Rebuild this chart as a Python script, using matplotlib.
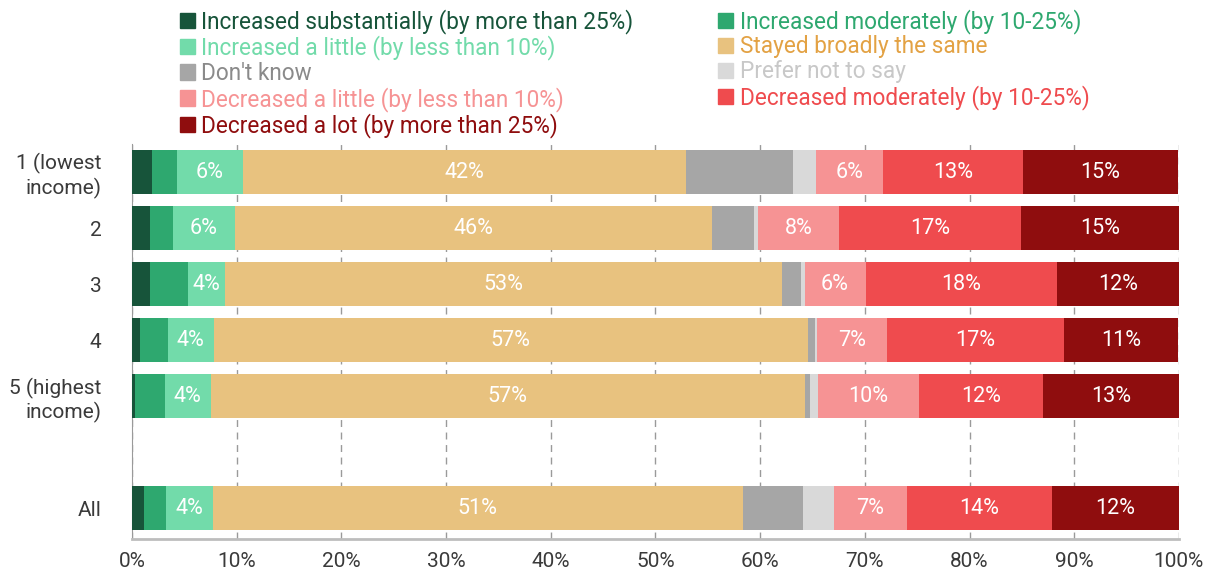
import matplotlib.pyplot as plt
from matplotlib.patches import Patch

plt.rcParams['font.family'] = ['Roboto', 'DejaVu Sans']

groups = ['1 (lowest\nincome)', '2', '3', '4', '5 (highest\nincome)', 'All']
positions = [0, 1, 2, 3, 4, 6]

categories = ['Increased substantially (by more than 25%)',
              'Increased moderately (by 10-25%)',
              'Increased a little (by less than 10%)',
              'Stayed broadly the same',
              "Don't know",
              'Prefer not to say',
              'Decreased a little (by less than 10%)',
              'Decreased moderately (by 10-25%)',
              'Decreased a lot (by more than 25%)']

# one list per category, rows in the order of groups
inc_sub = [1.95, 1.72, 1.69, 0.80, 0.32, 1.18]
inc_mod = [2.35, 2.17, 3.63, 2.60, 2.80, 2.11]
inc_little = [6.27, 5.92, 3.57, 4.43, 4.40, 4.44]
same = [42.3, 45.6, 53.2, 56.7, 56.76, 50.6]
dont_know = [10.3, 4.0, 1.86, 0.73, 0.45, 5.8]
prefer_not = [2.2, 0.4, 0.29, 0.16, 0.83, 2.95]
dec_little = [6.4, 7.7, 5.83, 6.7, 9.58, 6.9]
dec_mod = [13.3, 17.4, 18.3, 16.9, 11.87, 13.9]
dec_lot = [14.8, 15.2, 11.6, 10.9, 13.0, 12.1]

series = [inc_sub, inc_mod, inc_little, same, dont_know, prefer_not,
          dec_little, dec_mod, dec_lot]
colors = ['#17543a', '#2ea86f', '#72dbaa', '#e8c27f', '#a6a6a6', '#d9d9d9',
          '#f69394', '#ef4b4e', '#8f0d0e']
text_colors = ['#17543a', '#2ea86f', '#72dbaa', '#e3a244', '#8a8a8a', '#c8c8c8',
               '#f69394', '#ef4b4e', '#8f0d0e']
labelled = [2, 3, 6, 7, 8]

fig = plt.figure(figsize=(12.11, 5.76), dpi=100)
ax = fig.add_axes([0.109, 0.064, 0.8645, 0.686])

left = [0.0] * len(groups)
for i, vals in enumerate(series):
    bars = ax.barh(positions, vals, left=left, height=0.79, color=colors[i],
                   zorder=3, label=categories[i])
    if i in labelled:
        for b, v in zip(bars, vals):
            ax.text(b.get_x() + b.get_width() / 2, b.get_y() + b.get_height() / 2,
                    '%d%%' % round(v), ha='center', va='center', color='white',
                    fontsize=15.5, zorder=4)
    left = [l + v for l, v in zip(left, vals)]

ax.set_xlim(0, 100)
ax.set_ylim(6.55, -0.5)
ax.set_xticks(range(0, 101, 10))
ax.set_xticklabels(['%d%%' % t for t in range(0, 101, 10)])
ax.set_yticks(positions)
ax.set_yticklabels(groups)
ax.tick_params(axis='both', length=0, labelsize=15, colors='#3a3a3a', pad=9)
ax.tick_params(axis='y', pad=22)
for t in ax.get_yticklabels():
    t.set_horizontalalignment('right')
ax.grid(axis='x', color='#9a9a9a', linestyle=(0, (5, 4)), linewidth=1, zorder=0)
for s in ['top', 'right']:
    ax.spines[s].set_visible(False)
ax.spines['left'].set_color('#9a9a9a')
ax.spines['bottom'].set_color('#bdbdbd')
ax.spines['bottom'].set_linewidth(2)

handles = [Patch(color=c) for c in colors]
left_idx = [0, 2, 4, 6, 8]
right_idx = [1, 3, 5, 7]
for idx, x in [(left_idx, 0.141), (right_idx, 0.5855)]:
    leg = fig.legend([handles[i] for i in idx], [categories[i] for i in idx],
                     loc='upper left', bbox_to_anchor=(x, 1.0005), frameon=False,
                     fontsize=16.3, handlelength=0.65, handleheight=0.65,
                     handletextpad=0.3, labelspacing=0.073, borderaxespad=0)
    for t, i in zip(leg.get_texts(), idx):
        t.set_color(text_colors[i])

fig.savefig('out.png', dpi=100)
